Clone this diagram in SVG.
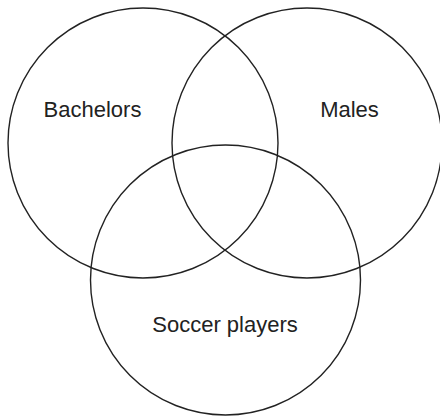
<svg xmlns="http://www.w3.org/2000/svg" width="440" height="416" viewBox="0 0 440 416">
<style>
.c{fill:none;stroke:#222;stroke-width:1.4}
.t{font-family:"Liberation Sans",Arial,sans-serif;font-size:22px;fill:#222;text-anchor:middle}
</style>
<rect width="440" height="416" fill="#fff"/>
<g id="bachelors"><circle class="c" cx="143" cy="143" r="135"/><text class="t" x="92.5" y="117">Bachelors</text></g>
<g id="males"><circle class="c" cx="307" cy="143" r="135"/><text class="t" x="349.5" y="117">Males</text></g>
<g id="soccer"><circle class="c" cx="225.5" cy="280" r="135"/><text class="t" x="225" y="332">Soccer players</text></g>
<g id="connectors"/>
</svg>
